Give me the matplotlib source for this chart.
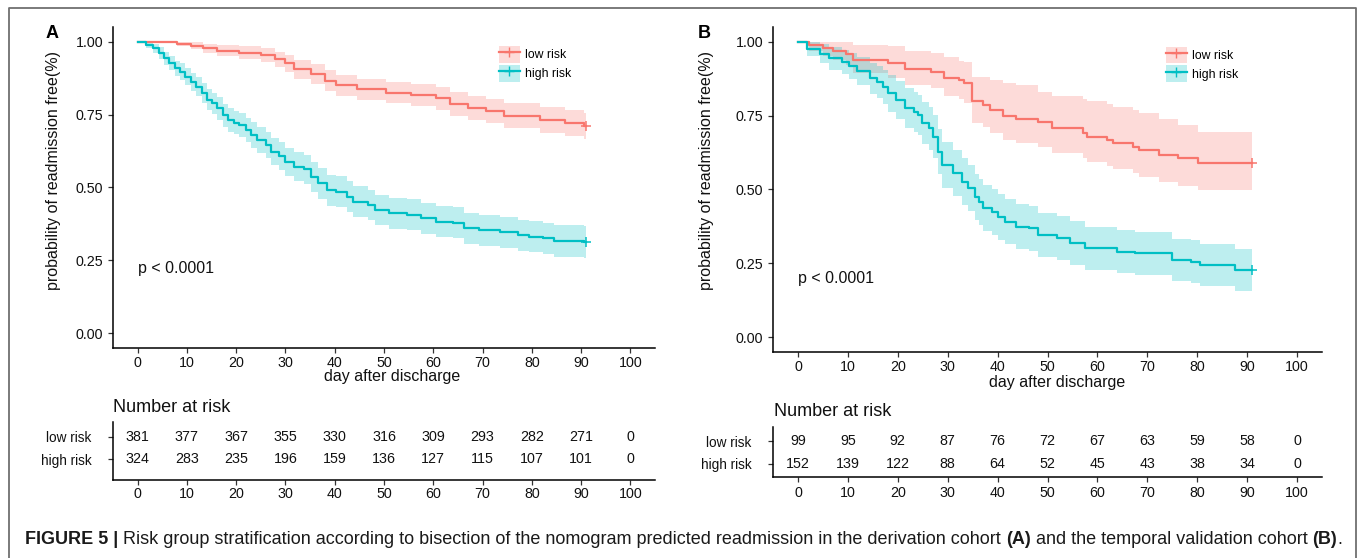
import matplotlib
matplotlib.use("Agg")
import matplotlib.pyplot as plt
from matplotlib.patches import Patch
from matplotlib.lines import Line2D

plt.rcParams['font.family'] = ['Liberation Sans', 'DejaVu Sans']

RED = '#F8766D'
TEAL = '#00BFC4'

# ---- panel A : derivation cohort ----
a_low_t = [0, 7.9, 10.8, 13.3, 16.2, 20.6, 25.0, 27.8, 30.0, 31.8, 35.1, 38.0, 40.2, 44.6,
           50.4, 55.4, 60.5, 63.4, 67.1, 70.7, 74.3, 81.6, 86.7, 90.5]
a_low_s = [1.0, 0.992, 0.985, 0.977, 0.969, 0.962, 0.954, 0.939, 0.926, 0.905, 0.889, 0.866,
           0.851, 0.836, 0.825, 0.816, 0.806, 0.786, 0.771, 0.762, 0.745, 0.731, 0.72, 0.711]
a_low_up = [1.0, 1.0, 0.997, 0.993, 0.988, 0.984, 0.979, 0.966, 0.955, 0.937, 0.922, 0.901,
            0.887, 0.873, 0.862, 0.854, 0.845, 0.826, 0.812, 0.803, 0.788, 0.775, 0.765, 0.756]
a_low_lo = [1.0, 0.984, 0.973, 0.961, 0.95, 0.94, 0.929, 0.912, 0.897, 0.873, 0.856, 0.831,
            0.815, 0.799, 0.788, 0.778, 0.767, 0.746, 0.73, 0.72, 0.703, 0.688, 0.676, 0.667]

a_high_t = [0, 1.7, 3.2, 4.3, 5.3, 6.4, 7.5, 8.6, 9.7, 10.8, 11.9, 13.0, 14.1, 15.1, 16.2, 17.3,
            18.4, 19.5, 20.6, 22.0, 23.1, 24.2, 26.0, 27.1, 28.6, 30.0, 31.8, 33.7, 35.1, 36.6,
            38.4, 40.2, 42.4, 43.8, 46.7, 48.2, 51.1, 54.7, 57.6, 60.5, 64.1, 66.3, 69.2, 73.6,
            77.2, 79.4, 82.3, 84.5, 90.5]
a_high_s = [1.0, 0.989, 0.977, 0.960, 0.943, 0.926, 0.908, 0.897, 0.880, 0.863, 0.846, 0.823,
            0.800, 0.788, 0.771, 0.748, 0.731, 0.722, 0.714, 0.697, 0.680, 0.663, 0.646, 0.623,
            0.608, 0.588, 0.571, 0.562, 0.537, 0.514, 0.491, 0.486, 0.468, 0.451, 0.440, 0.423,
            0.411, 0.406, 0.394, 0.383, 0.379, 0.360, 0.354, 0.346, 0.337, 0.331, 0.326, 0.316,
            0.313]
a_high_up = [1.0, 1.0, 0.993, 0.980, 0.966, 0.951, 0.935, 0.925, 0.910, 0.894, 0.879, 0.857,
             0.836, 0.825, 0.809, 0.787, 0.771, 0.762, 0.755, 0.739, 0.723, 0.707, 0.691, 0.669,
             0.655, 0.636, 0.620, 0.612, 0.588, 0.566, 0.544, 0.539, 0.521, 0.504, 0.493, 0.476,
             0.464, 0.459, 0.447, 0.436, 0.432, 0.413, 0.407, 0.399, 0.390, 0.384, 0.380, 0.370,
             0.367]
a_high_lo = [1.0, 0.978, 0.961, 0.940, 0.920, 0.901, 0.881, 0.869, 0.850, 0.832, 0.813, 0.789,
             0.764, 0.751, 0.733, 0.709, 0.691, 0.682, 0.673, 0.655, 0.637, 0.619, 0.601, 0.577,
             0.561, 0.540, 0.522, 0.512, 0.486, 0.462, 0.438, 0.433, 0.415, 0.398, 0.387, 0.370,
             0.358, 0.353, 0.341, 0.330, 0.326, 0.307, 0.301, 0.293, 0.284, 0.278, 0.272, 0.262,
             0.259]
a_end = 91
a_risk_low = [381, 377, 367, 355, 330, 316, 309, 293, 282, 271, 0]
a_risk_high = [324, 283, 235, 196, 159, 136, 127, 115, 107, 101, 0]

# ---- panel B : temporal validation cohort ----
b_low_t = [0, 2.3, 5.0, 7.1, 9.7, 11.0, 18.0, 21.5, 26.7, 29.3, 32.3, 33.2, 34.9, 37.1, 38.4,
           41.0, 43.6, 48.0, 51.0, 57.1, 57.9, 61.9, 63.2, 67.1, 68.4, 72.3, 76.2, 80.1]
b_low_s = [1.0, 0.99, 0.98, 0.97, 0.96, 0.94, 0.929, 0.909, 0.899, 0.879, 0.869, 0.859, 0.798,
           0.787, 0.768, 0.748, 0.738, 0.727, 0.707, 0.692, 0.679, 0.667, 0.656, 0.645, 0.634,
           0.617, 0.605, 0.589]
b_low_up = [1.0, 1.0, 1.0, 1.0, 1.0, 0.99, 0.985, 0.97, 0.962, 0.948, 0.935, 0.93, 0.882, 0.882,
            0.87, 0.86, 0.855, 0.83, 0.815, 0.805, 0.8, 0.79, 0.78, 0.77, 0.76, 0.74, 0.72, 0.695]
b_low_lo = [1.0, 0.97, 0.953, 0.937, 0.922, 0.894, 0.879, 0.854, 0.842, 0.818, 0.806, 0.794,
            0.724, 0.712, 0.69, 0.668, 0.656, 0.645, 0.623, 0.607, 0.592, 0.58, 0.568, 0.556,
            0.544, 0.526, 0.513, 0.497]

b_high_t = [0, 1.9, 4.5, 6.3, 8.9, 10.2, 11.9, 14.5, 15.8, 17.1, 18.0, 19.7, 21.5, 23.2, 24.1,
            24.9, 26.2, 27.1, 28.0, 28.8, 31.0, 32.8, 34.1, 35.4, 36.2, 37.1, 38.8, 40.1, 41.4,
            43.6, 46.2, 48.0, 51.9, 54.5, 57.5, 64.0, 67.5, 74.9, 78.8, 80.5, 87.5]
b_high_s = [1.0, 0.977, 0.96, 0.944, 0.932, 0.918, 0.902, 0.876, 0.865, 0.848, 0.825, 0.803,
            0.775, 0.763, 0.752, 0.724, 0.707, 0.679, 0.628, 0.583, 0.555, 0.527, 0.504, 0.476,
            0.459, 0.436, 0.425, 0.408, 0.391, 0.374, 0.369, 0.346, 0.335, 0.318, 0.301, 0.29,
            0.284, 0.262, 0.256, 0.245, 0.228]
b_high_up = [1.0, 1.0, 0.991, 0.982, 0.973, 0.962, 0.949, 0.928, 0.919, 0.905, 0.886, 0.867,
             0.842, 0.831, 0.821, 0.795, 0.780, 0.753, 0.704, 0.660, 0.633, 0.605, 0.582, 0.554,
             0.537, 0.514, 0.503, 0.486, 0.468, 0.450, 0.445, 0.421, 0.410, 0.392, 0.374, 0.363,
             0.357, 0.334, 0.328, 0.317, 0.300]
b_high_lo = [1.0, 0.953, 0.929, 0.906, 0.891, 0.874, 0.855, 0.824, 0.811, 0.791, 0.764, 0.739,
             0.708, 0.695, 0.683, 0.653, 0.634, 0.605, 0.552, 0.506, 0.477, 0.449, 0.426, 0.398,
             0.381, 0.358, 0.347, 0.330, 0.314, 0.298, 0.293, 0.271, 0.260, 0.244, 0.228, 0.217,
             0.211, 0.190, 0.184, 0.173, 0.156]
b_end = 91
b_risk_low = [99, 95, 92, 87, 76, 72, 67, 63, 59, 58, 0]
b_risk_high = [152, 139, 122, 88, 64, 52, 45, 43, 38, 34, 0]

risk_times = [0, 10, 20, 30, 40, 50, 60, 70, 80, 90, 100]
group_labels = ['low risk', 'high risk']
y_ticks = [0.0, 0.25, 0.5, 0.75, 1.0]

W, H = 1360, 558
fig = plt.figure(figsize=(W / 100, H / 100), dpi=100)


def fx(px):
    return px / W


def fy(py):
    return 1 - py / H


def box(l, t, r, b):
    return [fx(l), fy(b), fx(r) - fx(l), fy(t) - fy(b)]


def style(ax):
    for s in ['top', 'right']:
        ax.spines[s].set_visible(False)
    for s in ['left', 'bottom']:
        ax.spines[s].set_linewidth(1.1)
        ax.spines[s].set_color('black')
    ax.tick_params(length=3.5, width=0.9, color='#333333', labelsize=10.3, labelcolor='#111111')


def km(ax, t, s, lo, up, end, color):
    tt = t + [end]
    ss = s + [s[-1]]
    ax.fill_between(tt, lo + [lo[-1]], up + [up[-1]], step='post', color=color,
                    alpha=0.26, lw=0)
    ax.step(tt, ss, where='post', color=color, lw=1.6)
    ax.plot([end], [s[-1]], marker='+', color=color, ms=7, mew=1.1)


def panel(main_box, table_box, curves, risk_low, risk_high, table_ylim, leg_anchor,
          ptext_y, table_pad):
    ax = fig.add_axes(box(*main_box))
    for c in curves:
        km(ax, *c)
    ax.set_xlim(-5, 105)
    ax.set_ylim(-0.05, 1.05)
    ax.set_xticks(risk_times)
    ax.set_yticks(y_ticks)
    ax.set_yticklabels(['%.2f' % v for v in y_ticks])
    style(ax)
    ax.tick_params(axis='x', pad=2)
    ax.text(0, ptext_y, 'p < 0.0001', fontsize=11.5, va='center', ha='left', color='#111111')
    handles = [(Patch(facecolor=RED, alpha=0.26, lw=0),
                Line2D([], [], color=RED, lw=1.6, marker='+', ms=7)),
               (Patch(facecolor=TEAL, alpha=0.26, lw=0),
                Line2D([], [], color=TEAL, lw=1.6, marker='+', ms=7))]
    ax.legend(handles, group_labels, loc='upper left', bbox_to_anchor=leg_anchor,
              frameon=False, fontsize=8.8, handlelength=1.7, handleheight=1.7,
              handletextpad=0.45, labelspacing=0.2, borderpad=0, borderaxespad=0)

    tb = fig.add_axes(box(*table_box))
    tb.set_xlim(-5, 105)
    tb.set_ylim(*table_ylim)
    style(tb)
    tb.set_xticks(risk_times)
    tb.set_yticks([2, 1])
    tb.set_yticklabels(group_labels, fontsize=9.8)
    tb.tick_params(axis='y', pad=12)
    tb.tick_params(axis='x', pad=table_pad)
    for x, n1, n2 in zip(risk_times, risk_low, risk_high):
        tb.text(x, 2, str(n1), ha='center', va='center', fontsize=10.3, color='#111111')
        tb.text(x, 1, str(n2), ha='center', va='center', fontsize=10.3, color='#111111')
    return ax, tb


panel((113, 27, 655, 348), (113, 422, 655, 480),
      [(a_low_t, a_low_s, a_low_lo, a_low_up, a_end, RED),
       (a_high_t, a_high_s, a_high_lo, a_high_up, a_end, TEAL)],
      a_risk_low, a_risk_high, (0.084, 2.664), (0.712, 0.94), 0.223, 1.5)

panel((773, 27, 1322, 352), (773, 427, 1322, 477),
      [(b_low_t, b_low_s, b_low_lo, b_low_up, b_end, RED),
       (b_high_t, b_high_s, b_high_lo, b_high_up, b_end, TEAL)],
      b_risk_low, b_risk_high, (0.404, 2.646), (0.716, 0.94), 0.2, 3)

# titles and labels
for x, y, lab in [(52, 33, 'A'), (704, 33, 'B')]:
    fig.text(fx(x), fy(y), lab, fontsize=13, fontweight='bold', ha='center', va='center')
for x in [54, 706]:
    fig.text(fx(x), fy(170), 'probability of readmission free(%)', rotation=90,
             fontsize=11.5, ha='center', va='center', color='#111111')
for x, y in [(392, 377), (1057, 382)]:
    fig.text(fx(x), fy(y), 'day after discharge', fontsize=11.5, ha='center', va='center',
             color='#111111')
for x, y in [(113, 407), (774, 411)]:
    fig.text(fx(x), fy(y), 'Number at risk', fontsize=13, ha='left', va='center',
             color='#111111')

# frame around the figure
fig.add_artist(Line2D([fx(9), fx(9), fx(1356), fx(1356)], [0, fy(8), fy(8), 0],
                      transform=fig.transFigure, color='#707070', lw=1.3))

# caption: bold and regular pieces placed one after another
caption_parts = [('FIGURE 5 | ', 'bold'),
                 ('Risk group stratification according to bisection of the nomogram predicted '
                  'readmission in the derivation cohort ', 'normal'),
                 ('(A)', 'bold'),
                 (' and the temporal validation cohort ', 'normal'),
                 ('(B)', 'bold'),
                 ('.', 'normal')]
renderer = fig.canvas.get_renderer()


def piece_width(txt, weight, size):
    # bracket with bars so leading/trailing spaces are counted
    a = fig.text(0, 0, '|' + txt + '|', fontsize=size, fontweight=weight)
    b = fig.text(0, 0, '||', fontsize=size, fontweight=weight)
    w = a.get_window_extent(renderer).width - b.get_window_extent(renderer).width
    a.remove()
    b.remove()
    return w


size = 11
total = sum(piece_width(t, w, size) for t, w in caption_parts)
size = size * 1316 / total
x = 25
for t, w in caption_parts:
    fig.text(fx(x), fy(540), t, fontsize=size, fontweight=w, ha='left', va='center',
             color='#1a1a1a')
    x += piece_width(t, w, size)

fig.savefig('out.png', dpi=100)
